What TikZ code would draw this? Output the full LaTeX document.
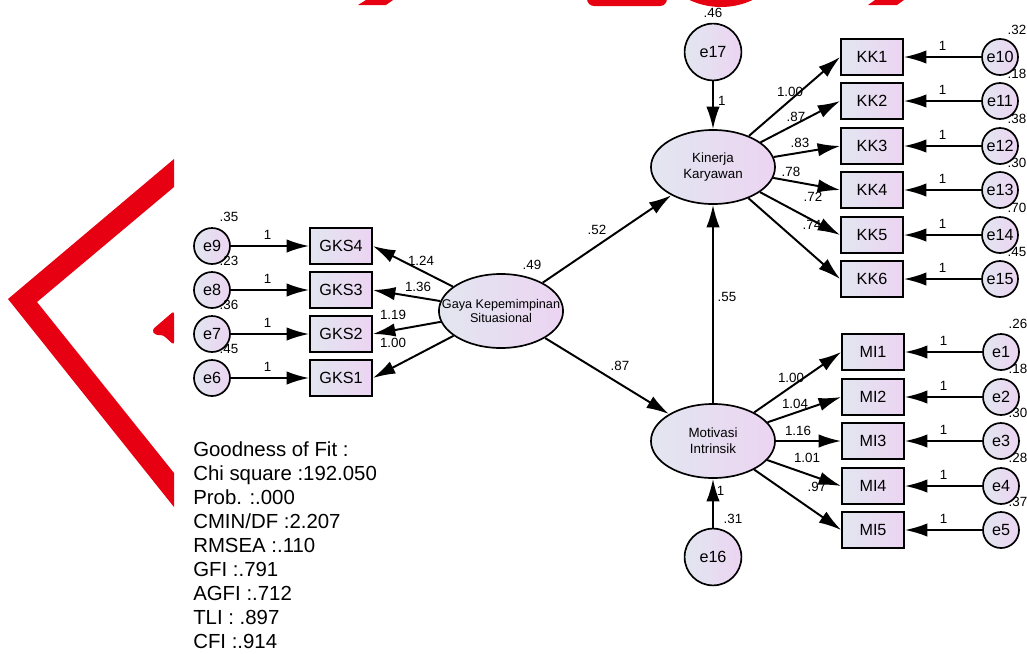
\documentclass[tikz,border=0pt]{standalone}
\usepackage{fontspec}
\setmainfont{Liberation Sans}
\usetikzlibrary{arrows.meta,shapes.geometric,positioning}
\definecolor{semblue}{RGB}{226,230,240}
\definecolor{sempink}{RGB}{236,212,242}
\definecolor{logored}{RGB}{230,0,18}
\tikzset{latent/.style={ellipse,draw,line width=1.2pt,left color=semblue,right color=sempink,
    minimum width=3.1cm,minimum height=1.85cm,inner xsep=-0.38cm,inner ysep=0pt,
    align=center,font=\fontsize{9.5}{11.5}\selectfont},
    indicator/.style={rectangle,draw,line width=1.2pt,left color=semblue,right color=sempink,
    minimum width=1.55cm,minimum height=0.9cm,inner sep=0pt,font=\fontsize{11.5}{13}\selectfont},
    errvar/.style={circle,draw,line width=1.2pt,left color=semblue,right color=sempink,
    minimum size=0.9cm,inner sep=0pt,font=\fontsize{11.5}{13}\selectfont},
    bigerr/.style={errvar,minimum size=1.42cm},
    effect/.style={draw,line width=1.4pt,-{Latex[length=16pt,width=9.5pt]}},
    coef/.style={font=\fontsize{9.5}{11}\selectfont,inner sep=0pt}}

\begin{document}
\begin{tikzpicture}[x=0.025cm,y=-0.025cm]
\useasboundingbox (0,0) rectangle (1027,653);

% red mark behind the diagram
\fill[logored] (8,299) -- (174,159) -- (174,187) -- (37,302) -- (174,473) -- (174,507) -- cycle;
\fill[logored,rounded corners=2pt] (174,311) -- (152,330) -- (155,335) -- (163,335) -- (174,345) -- cycle;
\fill[logored] (358,5) -- (366,0) -- (393,0) -- (386,5) -- cycle;
\fill[logored,rounded corners=5pt] (587,-10) -- (587,6) -- (667,6) -- (667,-10) -- cycle;
\fill[logored] (721,-67) circle (74);
\fill[logored] (868,5) -- (875,0) -- (904,0) -- (897,5) -- cycle;

% latent variables
\node[latent,font=\fontsize{9}{10.5}\selectfont] (gkp) at (501,311) {Gaya Kepemimpinan\\Situasional};
\node[latent] (kk) at (713,167) {Kinerja\\Karyawan};
\node[latent] (mi) at (713,441) {Motivasi\\Intrinsik};
\node[coef] at (532,265) {.49};

% disturbances of the endogenous variables
\node[bigerr] (e17) at (713,52) {e17};
\node[bigerr] (e16) at (713,557) {e16};
\node[coef] at (713,13) {.46};
\node[coef] at (733,519) {.31};
\draw[effect] (e17) -- node[coef,pos=0.4,right=3pt]{1} (kk);
\draw[effect] (e16) -- node[coef,pos=0.75,right=2pt]{1} (mi);

% structural paths
\draw[effect] (gkp) -- (kk);
\draw[effect] (gkp) -- (mi);
\draw[effect] (mi) -- (kk);
\node[coef] at (597,230) {.52};
\node[coef] at (620,366) {.87};
\node[coef] at (727,297) {.55};

% Gaya Kepemimpinan Situasional indicators
\foreach \n/\y/\e/\v/\lx/\ly/\l in {4/246/9/.35/421/261/1.24,3/290/8/.23/418/287/1.36,
    2/334/7/.36/393/315/1.19,1/378/6/.45/393/343/1.00}{
  \node[indicator] (gks\n) at (341,\y) {GKS\n};
  \node[errvar] (e\e) at (212,\y) {e\e};
  \node[coef] at (229,\y-29) {\v};
  \draw[effect] (e\e) -- node[coef,pos=0.47,above=4pt]{1} (gks\n);
  \draw[effect] (gkp) -- (gks\n.east);
  \node[coef] at (\lx,\ly) {\l};
}

% Kinerja Karyawan indicators
\foreach \n/\y/\e/\v/\lx/\ly/\l in {1/57/10/.32/790/92/1.00,2/101/11/.18/796/117/.87,
    3/146/12/.38/800/143/.83,4/190/13/.30/791/172/.78,5/235/14/.70/813/197/.72,
    6/279/15/.45/812/225/.74}{
  \node[indicator] (kk\n) at (872,\y) {KK\n};
  \node[errvar] (e\e) at (1000,\y) {e\e};
  \node[coef] at (1017,\y-27) {\v};
  \draw[effect] (e\e) -- node[coef,above=4pt]{1} (kk\n);
  \draw[effect] (kk) -- (kk\n.west);
  \node[coef] at (\lx,\ly) {\l};
}

% Motivasi Intrinsik indicators
\foreach \n/\y/\e/\v/\lx/\ly/\l in {1/352/1/.26/791/378/1.00,2/397/2/.18/795/404/1.04,
    3/441/3/.30/798/431/1.16,4/486/4/.28/807/458/1.01,5/530/5/.37/817/487/.97}{
  \node[indicator] (mi\n) at (873,\y) {MI\n};
  \node[errvar] (e\e) at (1001,\y) {e\e};
  \node[coef] at (1018,\y-28) {\v};
  \draw[effect] (e\e) -- node[coef,above=4pt]{1} (mi\n);
  \draw[effect] (mi) -- (mi\n.west);
  \node[coef] at (\lx,\ly) {\l};
}

% model fit
\node[anchor=north west,inner sep=0pt,align=left,font=\fontsize{14.5}{17.1}\selectfont] (fit) at (193,441)
  {Goodness of Fit :\\Chi square :192.050\\Prob. :.000\\CMIN/DF :2.207\\RMSEA :.110\\
   GFI :.791\\AGFI :.712\\TLI : .897\\CFI :.914};
\end{tikzpicture}
\end{document}
